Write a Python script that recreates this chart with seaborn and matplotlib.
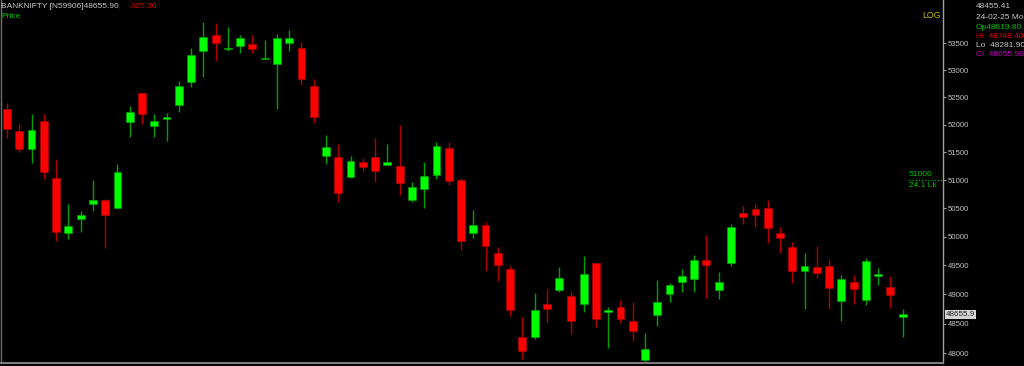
import matplotlib
matplotlib.use("Agg")
import matplotlib.pyplot as plt
import matplotlib.ticker as mticker
import matplotlib.transforms as mtransforms
import numpy as np
import pandas as pd
import seaborn as sns

# ---- data (daily candles, oldest -> newest) ----
opens = [52280, 51885, 51565, 52065, 51045, 50060, 50305, 50580, 50640, 50510,
         52055, 52570, 51980, 52095, 52360, 52785, 53355, 53650, 53390, 53455,
         53480, 53205, 53120, 53505, 53405, 52705, 51435, 51420, 51050, 51320,
         51410, 51275, 51260, 50650, 50840, 51085, 51575, 50995, 50060, 50205,
         49710, 49435, 48275, 48270, 48835, 49075, 48975, 48840, 49540, 48690,
         48780, 48545, 47885, 48645, 49000, 49210, 49265, 49600, 49080, 49545,
         50410, 50485, 50500, 50060, 49820, 49410, 49480, 49495, 48885, 49215,
         48900, 49310, 49135, 48619.8]
highs = [52390, 52010, 52190, 52190, 51375, 50570, 50455, 51000, 50660, 51290,
         52340, 52575, 52195, 52205, 52800, 53405, 53895, 53885, 53800, 53650,
         53655, 53555, 53675, 53755, 53530, 52835, 51810, 51645, 51430, 51390,
         51750, 51645, 51995, 50965, 51330, 51685, 51685, 51030, 50470, 50250,
         49815, 49495, 48620, 49020, 49090, 49465, 49060, 49665, 49545, 48790,
         48905, 48870, 48340, 49250, 49200, 49435, 49680, 50025, 49380, 50220,
         50540, 50570, 50645, 50165, 49910, 49720, 49840, 49605, 49335, 49335,
         49635, 49460, 49315, 48748.4]
lows = [51760, 51510, 51310, 51020, 49925, 49955, 50080, 50450, 49795, 50495,
        51780, 52010, 51770, 51710, 52225, 52695, 52865, 53175, 53365, 53315,
        53315, 53200, 52280, 53355, 52725, 52030, 51280, 50615, 51040, 51165,
        50970, 51265, 50735, 50615, 50500, 51015, 50915, 49765, 49970, 49405,
        49235, 48635, 47900, 48235, 48525, 49045, 48325, 48690, 48440, 48085,
        48505, 48215, 47860, 48460, 48865, 49045, 49045, 48945, 48920, 49495,
        50225, 50175, 49885, 49720, 49190, 48745, 49290, 48745, 48545, 48830,
        48820, 49160, 48775, 48281.9]
closes = [51920, 51565, 51895, 51150, 50080, 50185, 50380, 50645, 50380, 51145,
          52225, 52190, 52065, 52135, 52705, 53280, 53625, 53505, 53420, 53595,
          53395, 53230, 53595, 53595, 52835, 52140, 51590, 50765, 51335, 51240,
          51170, 51325, 50955, 50875, 51070, 51610, 50990, 49925, 50205, 49840,
          49510, 48740, 48040, 48735, 48745, 49285, 48540, 49355, 48575, 48735,
          48585, 48370, 48075, 48870, 49165, 49315, 49600, 49510, 49215, 50165,
          50345, 50380, 50155, 49980, 49410, 49485, 49370, 49105, 49260, 49095,
          49575, 49345, 48981.2, 48655.9]
tick_values = [48000, 48500, 49000, 49500, 50000, 50500, 51000, 51500,
               52000, 52500, 53000, 53500]
marker_level = 51000
marker_labels = ["51000", "24.1 Lk"]
title_text = "BANKNIFTY [N59906]48655.90"
change_text = "-325.30"
info_lines = ["48455.41", "24-02-25 Mo", "Op48619.80", "Hi  48748.40",
              "Lo  48281.90", "Cl  48655.90"]
last_label = "48655.9"

df = pd.DataFrame({"open": opens, "high": highs, "low": lows, "close": closes})
df["idx"] = np.arange(len(df))
df["up"] = df["close"] >= df["open"]

# ---- style ----
sns.set_theme(style="dark", rc={
    "figure.facecolor": "black", "axes.facecolor": "black",
    "savefig.facecolor": "black", "axes.edgecolor": "#808080",
    "axes.grid": False, "axes.linewidth": 1.0,
})
plt.rcParams["font.family"] = ["Liberation Sans", "DejaVu Sans"]

W, H = 1024, 366
fig = plt.figure(figsize=(W / 100, H / 100), dpi=100)
ax = fig.add_axes([1 / W, 3 / H, 942.3 / W, 363 / H])
ax.set_yscale("log")

GREEN_BODY, GREEN_WICK = "#00ff00", "#00a000"
RED_BODY, RED_WICK = "#ff0000", "#b00000"

wick_colors = np.where(df["up"], GREEN_WICK, RED_WICK)
body_colors = np.where(df["up"], GREEN_BODY, RED_BODY)

ax.vlines(df["idx"], df["low"], df["high"], colors=wick_colors,
          linewidth=1.0, zorder=2)
body_low = np.minimum(df["open"], df["close"])
body_h = np.maximum(np.abs(df["close"] - df["open"]), 10)
ax.bar(df["idx"], body_h, bottom=body_low, width=0.64,
       color=body_colors, edgecolor=wick_colors, linewidth=0.4, zorder=3)

ax.set_xlim(-0.489, 76.31)
ax.set_ylim(47837, 54317)

# axes / ticks
ax.yaxis.tick_right()
ax.yaxis.set_minor_locator(mticker.NullLocator())
ax.set_yticks(tick_values)
ax.yaxis.set_major_formatter(mticker.FormatStrFormatter("%d"))
ax.tick_params(axis="y", which="major", colors="#9a9a9a", labelcolor="#c0c0c0",
               labelsize=5.6, length=2.2, width=0.8, pad=0.8, direction="out",
               right=True, left=False)
ax.tick_params(axis="x", bottom=False, labelbottom=False)
ax.spines["top"].set_visible(False)
ax.spines["right"].set_color("#a0a0a0")
ax.spines["left"].set_color("#707070")
ax.spines["bottom"].set_color("#808080")
ax.spines["bottom"].set_linewidth(1.4)
ax.set_xlabel("")
ax.set_ylabel("")

# marker line 51000 / 24.1 Lk
trans = mtransforms.blended_transform_factory(ax.transAxes, ax.transData)
x0 = (909 - 1) / 942.3
ax.plot([x0, 1.0], [marker_level, marker_level], transform=trans,
        color="#00b000", linestyle=(0, (1, 1.5)), linewidth=0.9, zorder=4,
        clip_on=False)
ax.text(x0, marker_level * 1.0006, marker_labels[0], transform=trans,
        color="#00c000", fontsize=6, ha="left", va="bottom")
ax.text(x0, marker_level * 0.9994, marker_labels[1], transform=trans,
        color="#00c000", fontsize=6, ha="left", va="top")

# last price label box on the axis
ax.text(1.0 + 2.5 / 942.3, closes[-1], last_label, transform=trans,
        color="#202020", fontsize=5.8, ha="left", va="center", zorder=6,
        bbox=dict(boxstyle="square,pad=0.12", facecolor="#d4d4d4",
                  edgecolor="none"), clip_on=False)

# LOG label
fig.text(941 / W, 1 - 15 / H, "LOG", color="#bcbc00", fontsize=6.3,
         ha="right", va="center")

# top-left title
fig.text(1 / W, 1 - 7 / H, title_text, color="#c8c8c8", fontsize=6,
         ha="left", va="center")
fig.text(117.5 / W, 1 - 7 / H, ",", color="#d00000", fontsize=6,
         ha="left", va="center")
fig.text(128.5 / W, 1 - 7 / H, change_text, color="#d00000", fontsize=6,
         ha="left", va="center")
fig.text(1 / W, 1 - 16.5 / H, "Price", color="#00c000", fontsize=6,
         ha="left", va="center")

# info block at top right
info_colors = ["#c8c8c8", "#c8c8c8", "#00c000", "#e00000", "#c8c8c8", "#c000c0"]
info_y = [6.7, 17.7, 27.3, 36.3, 45.3, 54.7]
for txt, col, yy in zip(info_lines, info_colors, info_y):
    fig.text(976 / W, 1 - yy / H, txt, color=col, fontsize=6,
             ha="left", va="center")

fig.savefig("out.png", dpi=100, facecolor="black")
